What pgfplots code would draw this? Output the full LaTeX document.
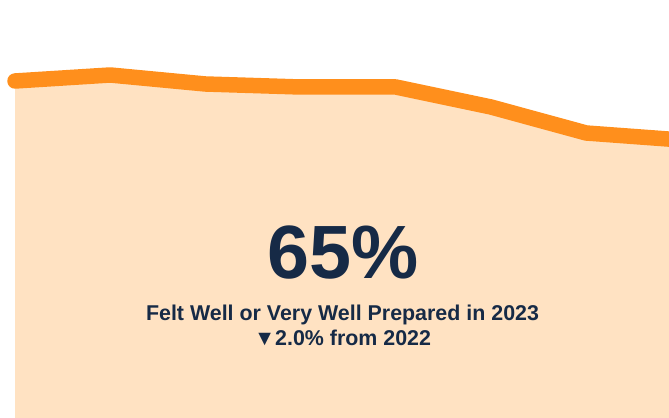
\documentclass[border=0pt]{standalone}
\usepackage{pgfplots}
\pgfplotsset{compat=1.18}
\usepackage{fontspec}
\setmainfont{Liberation Sans}
\definecolor{lineorange}{RGB}{255,143,28}
\definecolor{areafill}{RGB}{255,226,194}
\definecolor{navy}{RGB}{22,42,70}

\begin{document}
\begin{tikzpicture}
  \begin{axis}[
      at={(0,0)}, anchor=south west,
      scale only axis,
      width=669bp, height=418bp,
      hide axis,
      clip=true,
      xmin=-0.1576, xmax=6.870,
      ymin=0, ymax=418,
    ]
    % filled area under the trend
    \addplot[fill=areafill, draw=none] coordinates {
      (0,337) (1,343) (2,334) (3,331) (4,331) (5,311) (6,285) (7,278)
    } \closedcycle;
    % trend line
    \addplot[lineorange, line width=15.5bp, line cap=round, line join=round, mark=none] coordinates {
      (0,337) (1,343) (2,334) (3,331) (4,331) (5,311) (6,285) (7,278)
    };
    \node[font=\bfseries\fontsize{75.5bp}{75.5bp}\selectfont, text=navy] at (rel axis cs:0.513,0.395) {65\%};
    \node[font=\bfseries\fontsize{21.4bp}{25bp}\selectfont, text=navy, align=center] at (rel axis cs:0.512,0.222)
      {Felt Well or Very Well Prepared in 2023\\▼2.0\% from 2022};
  \end{axis}
  \pgfresetboundingbox
  \useasboundingbox (0,0) rectangle (669bp,418bp);
\end{tikzpicture}
\end{document}
